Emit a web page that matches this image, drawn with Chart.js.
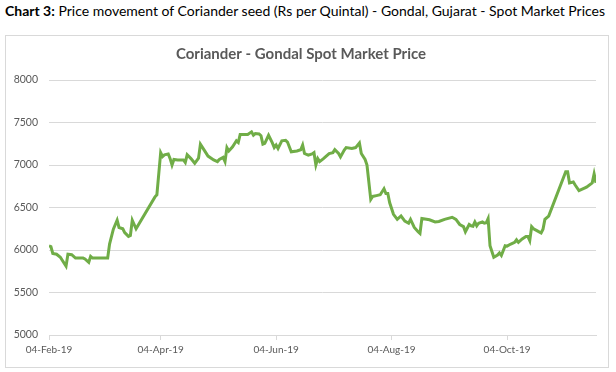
<!DOCTYPE html>
<html>
<head>
<meta charset="utf-8">
<script src="https://cdn.jsdelivr.net/npm/chart.js@4/dist/chart.umd.min.js"></script>
<style>
  body { margin: 0; background: #fff; width: 616px; height: 372px; overflow: hidden; font-family: Lato, "Open Sans", sans-serif; }
  #heading { position: absolute; left: 5px; top: 2px; font-size: 14px; color: #000; white-space: nowrap; }
  #box { position: absolute; left: 5px; top: 35px; width: 602px; height: 331px; border: 1px solid #d9d9d9; }
  canvas { display: block; }
</style>
</head>
<body>
<div id="heading"><b>Chart 3:</b> Price movement of Coriander seed (Rs per Quintal) - Gondal, Gujarat - Spot Market Prices</div>
<div id="box"><canvas id="priceChart" width="602" height="331"></canvas></div>
<script>
const chartTitle = "Coriander - Gondal Spot Market Price";

/* DATA */
const dates = [
  "2019-02-04","2019-02-05","2019-02-06","2019-02-08","2019-02-10","2019-02-11","2019-02-13","2019-02-14",
  "2019-02-16","2019-02-18","2019-02-22","2019-02-23","2019-02-25","2019-02-26","2019-02-27","2019-03-07",
  "2019-03-08","2019-03-10","2019-03-12","2019-03-13","2019-03-15","2019-03-16","2019-03-18","2019-03-19",
  "2019-03-20","2019-03-22","2019-04-01","2019-04-02","2019-04-04","2019-04-05","2019-04-06","2019-04-08",
  "2019-04-09","2019-04-10","2019-04-11","2019-04-13","2019-04-16","2019-04-17","2019-04-18","2019-04-20",
  "2019-04-22","2019-04-24","2019-04-25","2019-04-27","2019-04-29","2019-05-02","2019-05-04","2019-05-05",
  "2019-05-07","2019-05-08","2019-05-09","2019-05-10","2019-05-12","2019-05-14","2019-05-15","2019-05-16",
  "2019-05-20","2019-05-22","2019-05-23","2019-05-24","2019-05-26","2019-05-27","2019-05-28","2019-05-29",
  "2019-05-31","2019-06-02","2019-06-03","2019-06-04","2019-06-05","2019-06-07","2019-06-09","2019-06-10",
  "2019-06-12","2019-06-15","2019-06-17","2019-06-18","2019-06-19","2019-06-21","2019-06-23","2019-06-24",
  "2019-06-25","2019-06-26","2019-06-27","2019-06-29","2019-07-02","2019-07-04","2019-07-05","2019-07-07",
  "2019-07-08","2019-07-10","2019-07-11","2019-07-14","2019-07-16","2019-07-18","2019-07-19","2019-07-21",
  "2019-07-22","2019-07-24","2019-07-25","2019-07-27","2019-07-29","2019-07-31","2019-08-01","2019-08-02",
  "2019-08-03","2019-08-05","2019-08-07","2019-08-09","2019-08-11","2019-08-13","2019-08-14","2019-08-16",
  "2019-08-18","2019-08-19","2019-08-20","2019-08-24","2019-08-27","2019-08-29","2019-09-01","2019-09-05",
  "2019-09-07","2019-09-09","2019-09-11","2019-09-12","2019-09-14","2019-09-15","2019-09-16","2019-09-17",
  "2019-09-18","2019-09-19","2019-09-21","2019-09-22","2019-09-23","2019-09-24","2019-09-25","2019-09-27",
  "2019-09-29","2019-09-30","2019-10-01","2019-10-03","2019-10-04","2019-10-06","2019-10-08","2019-10-09",
  "2019-10-10","2019-10-12","2019-10-14","2019-10-15","2019-10-16","2019-10-17","2019-10-18","2019-10-20",
  "2019-10-22","2019-10-23","2019-10-24","2019-10-26","2019-11-04","2019-11-05","2019-11-06","2019-11-08",
  "2019-11-09","2019-11-11","2019-11-15","2019-11-18","2019-11-19","2019-11-20"
];

const prices = [
  6050,6040,5960,5950,5915,5880,5810,5950,
  5945,5905,5905,5895,5855,5925,5905,5905,
  6070,6245,6350,6265,6250,6205,6160,6170,
  6350,6250,6625,6650,7145,7100,7120,7130,
  7075,7000,7065,7060,7060,7030,7120,7075,
  7020,7080,7245,7175,7105,7060,7040,7065,
  7090,7040,7205,7165,7215,7285,7265,7360,
  7360,7390,7350,7370,7365,7345,7245,7255,
  7350,7260,7205,7235,7195,7285,7290,7270,
  7155,7165,7180,7235,7135,7115,7130,7145,
  7000,7075,7040,7075,7135,7145,7180,7135,
  7095,7175,7205,7195,7205,7260,7135,7065,
  7000,6595,6630,6640,6650,6720,6665,6665,
  6555,6420,6360,6400,6340,6315,6360,6265,
  6215,6195,6370,6355,6330,6335,6360,6385,
  6360,6300,6275,6215,6300,6285,6280,6330,
  6285,6315,6330,6315,6320,6370,6050,5915,
  5940,5965,5935,6050,6045,6070,6090,6120,
  6090,6130,6160,6160,6110,6275,6250,6225,
  6200,6245,6360,6400,6920,6920,6790,6800,
  6765,6700,6740,6790,6895,6790
];

const tickDates = ["2019-02-04","2019-04-04","2019-06-04","2019-08-04","2019-10-04"];
const tickLabels = ["04-Feb-19","04-Apr-19","04-Jun-19","04-Aug-19","04-Oct-19"];
const yMin = 5000, yMax = 8000, yStep = 500;

/* day offsets from the first date, so the x axis is spaced by calendar days */
const DAY = 86400000;
const start = Date.parse(dates[0]);
const dayOf = d => Math.round((Date.parse(d) - start) / DAY);
const points = dates.map((d, i) => ({ x: dayOf(d), y: prices[i] }));
const tickDays = tickDates.map(dayOf);

const gray = "#595959";
const gridColor = "#d9d9d9";
const font = "Lato, 'Open Sans', sans-serif";

new Chart(document.getElementById("priceChart"), {
  type: "line",
  data: {
    datasets: [{
      label: chartTitle,
      data: points,
      borderColor: "#70ad47",
      borderWidth: 3,
      pointRadius: 0,
      tension: 0,
      fill: false
    }]
  },
  options: {
    responsive: false,
    animation: false,
    layout: { padding: { left: 0, right: 12, top: 0, bottom: 0 } },
    plugins: {
      legend: { display: false },
      tooltip: { enabled: false },
      title: {
        display: true,
        text: chartTitle,
        color: gray,
        font: { family: font, size: 15, weight: "bold" },
        padding: { top: 9, bottom: 17 }
      }
    },
    scales: {
      x: {
        type: "linear",
        min: 0,
        max: dayOf(dates[dates.length - 1]),
        afterBuildTicks: s => { s.ticks = tickDays.map(v => ({ value: v })); },
        afterFit: s => { s.height = 32; },
        border: { color: gridColor },
        grid: { drawOnChartArea: false, drawTicks: true, tickLength: 5, color: gridColor },
        ticks: {
          autoSkip: false,
          maxRotation: 0,
          padding: 4,
          color: gray,
          font: { family: font, size: 10 },
          callback: v => tickLabels[tickDays.indexOf(v)]
        }
      },
      y: {
        min: yMin,
        max: yMax,
        afterFit: s => { s.width = 43; },
        border: { display: false },
        grid: { color: gridColor, drawTicks: false },
        ticks: {
          stepSize: yStep,
          padding: 11,
          color: gray,
          font: { family: font, size: 10.5 },
          callback: v => String(v)
        }
      }
    }
  }
});
</script>
</body>
</html>
